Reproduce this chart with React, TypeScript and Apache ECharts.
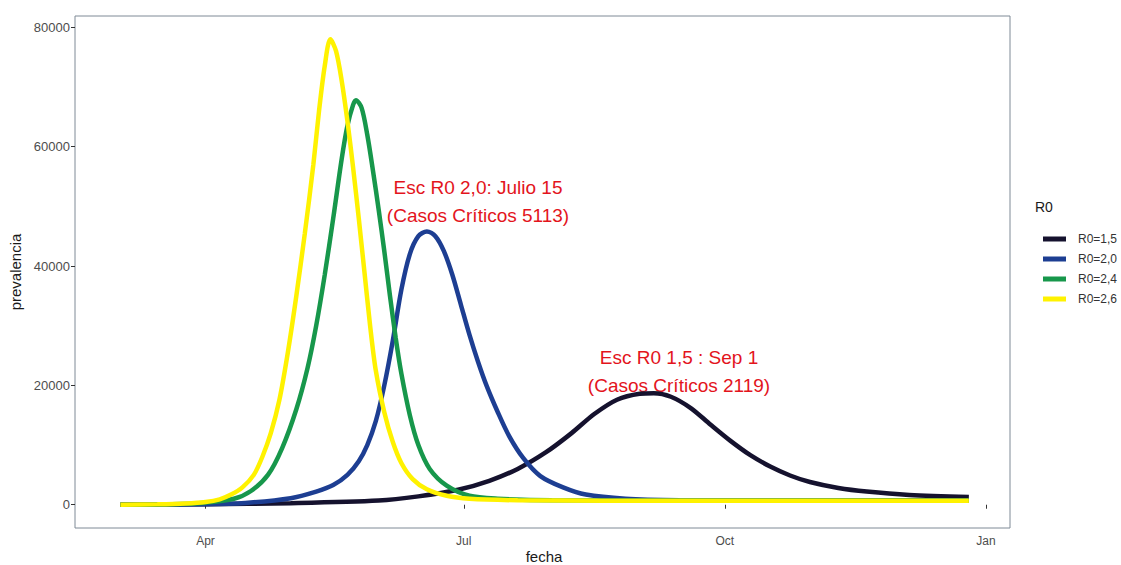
import React, { useEffect, useRef } from "react";
import * as echarts from "echarts";

// ---- data ----
const MONTHS = ["Jan", "Feb", "Mar", "Apr", "May", "Jun", "Jul", "Aug", "Sep", "Oct", "Nov", "Dec"];
const xTickDates = ["2020-04-01", "2020-07-01", "2020-10-01", "2021-01-01"];
const yTicks = [0, 20000, 40000, 60000, 80000];
const seriesNames = ["R0=1,5", "R0=2,0", "R0=2,4", "R0=2,6"];
const seriesColors = ["#15122e", "#1d3e92", "#17974b", "#fff200"];

const r15Dates = ["2020-03-02", "2020-04-01", "2020-05-01", "2020-06-01", "2020-06-15", "2020-06-29", "2020-07-10", "2020-07-20", "2020-07-30", "2020-08-08", "2020-08-16", "2020-08-24", "2020-09-01", "2020-09-06", "2020-09-12", "2020-09-19", "2020-09-26", "2020-10-03", "2020-10-10", "2020-10-17", "2020-10-24", "2020-10-31", "2020-11-10", "2020-11-20", "2020-12-05", "2020-12-26"];
const r15Values = [0, 80, 260, 700, 1400, 2500, 4000, 6000, 8800, 12000, 15200, 17600, 18600, 18700, 18100, 16200, 13400, 10700, 8300, 6400, 4900, 3800, 2800, 2200, 1650, 1300];

const r20Dates = ["2020-03-02", "2020-04-01", "2020-04-15", "2020-05-01", "2020-05-10", "2020-05-16", "2020-05-21", "2020-05-25", "2020-05-28", "2020-05-31", "2020-06-03", "2020-06-06", "2020-06-09", "2020-06-12", "2020-06-15", "2020-06-18", "2020-06-21", "2020-06-24", "2020-06-27", "2020-06-30", "2020-07-03", "2020-07-06", "2020-07-09", "2020-07-13", "2020-07-17", "2020-07-22", "2020-07-28", "2020-08-05", "2020-08-13", "2020-08-27", "2020-09-15", "2020-10-15", "2020-12-26"];
const r20Values = [0, 80, 300, 1100, 2200, 3300, 5000, 7300, 10000, 14000, 20000, 27500, 36000, 42000, 45000, 45800, 45000, 42500, 38500, 33500, 28500, 24000, 20000, 15500, 11500, 7800, 4800, 2900, 1700, 1000, 750, 700, 700];

const r24Dates = ["2020-03-02", "2020-03-20", "2020-04-01", "2020-04-11", "2020-04-17", "2020-04-23", "2020-04-28", "2020-05-03", "2020-05-07", "2020-05-10", "2020-05-13", "2020-05-16", "2020-05-19", "2020-05-21", "2020-05-23", "2020-05-24", "2020-05-26", "2020-05-28", "2020-05-30", "2020-06-01", "2020-06-03", "2020-06-05", "2020-06-07", "2020-06-09", "2020-06-12", "2020-06-15", "2020-06-19", "2020-06-25", "2020-07-03", "2020-07-13", "2020-08-01", "2020-12-26"];
const r24Values = [0, 80, 350, 1000, 2300, 5000, 9500, 16000, 23000, 30000, 38500, 48000, 58000, 63500, 67000, 67800, 66500, 62000, 56000, 49500, 42500, 35000, 28000, 22000, 15000, 10000, 6000, 3200, 1500, 1000, 750, 700];

const r26Dates = ["2020-03-02", "2020-03-15", "2020-03-25", "2020-04-01", "2020-04-06", "2020-04-10", "2020-04-14", "2020-04-18", "2020-04-21", "2020-04-24", "2020-04-27", "2020-04-30", "2020-05-03", "2020-05-06", "2020-05-09", "2020-05-11", "2020-05-13", "2020-05-15", "2020-05-17", "2020-05-19", "2020-05-21", "2020-05-23", "2020-05-25", "2020-05-27", "2020-05-29", "2020-05-31", "2020-06-03", "2020-06-06", "2020-06-09", "2020-06-13", "2020-06-18", "2020-06-25", "2020-07-03", "2020-07-20", "2020-08-20", "2020-12-26"];
const r26Values = [0, 60, 200, 450, 900, 1700, 2900, 5000, 8000, 12000, 17500, 25500, 35000, 45500, 57000, 66000, 73500, 78000, 76000, 71000, 64300, 56500, 48000, 39000, 30000, 22500, 15500, 10500, 7000, 4300, 2600, 1500, 1000, 750, 680, 650];

const allDates = [r15Dates, r20Dates, r24Dates, r26Dates];
const allValues = [r15Values, r20Values, r24Values, r26Values];

const annotations = [
  { lines: ["Esc R0 2,0: Julio 15", "(Casos Críticos 5113)"], x: 478, y: 187 },
  { lines: ["Esc R0 1,5 : Sep 1", "(Casos Críticos 2119)"], x: 679, y: 357 },
];

function toTs(s: string): number {
  const [y, m, d] = s.split("-").map(Number);
  return new Date(y, m - 1, d).getTime();
}

export default function App() {
  const ref = useRef<HTMLDivElement>(null);

  useEffect(() => {
    if (!ref.current) return;
    const chart = echarts.init(ref.current, undefined, { renderer: "svg" });
    const xTicks = xTickDates.map(toTs);
    const font = "Liberation Sans, Arial, sans-serif";

    const series = seriesNames.map((name, i) => ({
      name,
      type: "line",
      smooth: 0.3,
      showSymbol: false,
      symbol: "none",
      z: 2 + i,
      lineStyle: { color: seriesColors[i], width: 4.5 },
      itemStyle: { color: seriesColors[i] },
      data: allDates[i].map((d, j) => [toTs(d), allValues[i][j]]),
    }));

    const graphics: any[] = [];
    annotations.forEach((a) => {
      a.lines.forEach((t, k) => {
        graphics.push({
          type: "text",
          x: a.x,
          y: a.y + k * 28,
          style: {
            text: t,
            fill: "#e3141c",
            font: `19px ${font}`,
            textAlign: "center",
            textVerticalAlign: "middle",
          },
        });
      });
    });
    graphics.push({
      type: "text",
      x: 1035,
      y: 207,
      style: { text: "R0", fill: "#1a1a1a", font: `14px ${font}`, textAlign: "left", textVerticalAlign: "middle" },
    });
    graphics.push({
      type: "text",
      x: 15,
      y: 272,
      rotation: Math.PI / 2,
      style: { text: "prevalencia", fill: "#1a1a1a", font: `15px ${font}`, textAlign: "center", textVerticalAlign: "middle" },
    });
    graphics.push({
      type: "text",
      x: 544,
      y: 556,
      style: { text: "fecha", fill: "#1a1a1a", font: `15px ${font}`, textAlign: "center", textVerticalAlign: "middle" },
    });

    chart.setOption({
      animation: false,
      backgroundColor: "#ffffff",
      textStyle: { fontFamily: font },
      grid: {
        left: 75,
        right: 111,
        top: 16,
        bottom: 37,
        show: true,
        borderColor: "#7f8a96",
        borderWidth: 1,
        backgroundColor: "transparent",
      },
      legend: {
        orient: "vertical",
        left: 1038,
        top: 227,
        itemWidth: 23,
        itemHeight: 5,
        itemGap: 6,
        icon: "rect",
        data: seriesNames,
        textStyle: { fontSize: 12, color: "#333333", lineHeight: 14, padding: [0, 0, 0, 7] },
      },
      xAxis: {
        type: "value",
        min: toTs("2020-02-15"),
        max: toTs("2021-01-09") + 12 * 3600 * 1000,
        axisLine: { show: false },
        splitLine: { show: false },
        axisTick: { show: true, length: 4, lineStyle: { color: "#333333" }, customValues: xTicks },
        axisLabel: {
          customValues: xTicks,
          formatter: (v: number) => MONTHS[new Date(v).getMonth()],
          color: "#4d4d4d",
          fontSize: 12,
          margin: 7,
        },
      },
      yAxis: {
        type: "value",
        min: -3900,
        max: 81900,
        axisLine: { show: false },
        splitLine: { show: false },
        axisTick: { show: true, length: 4, lineStyle: { color: "#333333" }, customValues: yTicks },
        axisLabel: {
          customValues: yTicks,
          formatter: (v: number) => String(v),
          color: "#4d4d4d",
          fontSize: 13,
          margin: 5,
        },
      },
      series,
      graphic: graphics,
    });

    return () => chart.dispose();
  }, []);

  return <div ref={ref} style={{ position: "absolute", left: 0, top: 0, width: 1121, height: 565 }} />;
}
